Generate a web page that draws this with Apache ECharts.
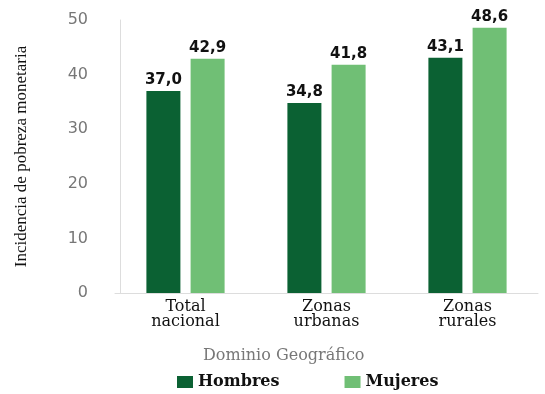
<!DOCTYPE html>
<html>
<head>
<meta charset="utf-8">
<script src="https://cdn.jsdelivr.net/npm/echarts@6/dist/echarts.min.js"></script>
<style>
  html, body { margin: 0; padding: 0; background: #fff; }
  #chart { width: 545px; height: 394px; }
</style>
</head>
<body>
<div id="chart"></div>
<script>
const categories = ['Total\nnacional', 'Zonas\nurbanas', 'Zonas\nrurales']
const hombres = [37.0, 34.8, 43.1]
const mujeres = [42.9, 41.8, 48.6]
const yTicks = [0, 10, 20, 30, 40, 50]

const DARK = '#0b6133'
const LIGHT = '#70bf75'

const chart = echarts.init(document.getElementById('chart'))

const fmt = p => p.value.toFixed(1).replace('.', ',')

const barLabel = {
  show: true,
  position: 'top',
  distance: 3,
  formatter: fmt,
  fontFamily: 'DejaVu Sans',
  fontWeight: 'bold',
  fontSize: 15,
  color: '#111'
}

chart.setOption({
  animation: false,
  title: {
    text: 'Dominio Geográfico',
    left: 198,
    top: 343,
    textStyle: { fontFamily: 'DejaVu Serif', fontWeight: 'normal', fontSize: 16, color: '#777' }
  },
  legend: {
    bottom: -1,
    left: 172,
    itemWidth: 16,
    itemHeight: 12,
    itemGap: 65,
    icon: 'rect',
    textStyle: { fontFamily: 'DejaVu Serif', fontWeight: 'bold', fontSize: 16, color: '#111' },
    data: ['Hombres', 'Mujeres']
  },
  grid: { left: 115, right: 7, top: 20, bottom: 101 },
  xAxis: {
    type: 'category',
    data: categories,
    axisLine: { lineStyle: { color: '#ddd', width: 1 } },
    axisTick: { show: false },
    axisLabel: {
      margin: 6,
      lineHeight: 15,
      fontFamily: 'DejaVu Serif',
      fontSize: 16,
      color: '#111'
    }
  },
  yAxis: {
    type: 'value',
    min: 0,
    max: 50,
    interval: 10,
    offset: -5,
    name: 'Incidencia de pobreza monetaria',
    nameLocation: 'middle',
    nameGap: 90,
    nameTextStyle: { fontFamily: 'Liberation Serif', fontSize: 17, color: '#111' },
    axisLine: { show: true, lineStyle: { color: '#ddd', width: 1 } },
    axisTick: { show: false },
    splitLine: { show: false },
    axisLabel: {
      margin: 32,
      fontFamily: 'DejaVu Sans',
      fontSize: 16,
      color: '#777',
      formatter: v => (yTicks.includes(v) ? String(v) : '')
    }
  },
  series: [
    {
      name: 'Hombres',
      type: 'bar',
      data: hombres,
      barWidth: 34,
      barGap: '30%',
      itemStyle: { color: DARK },
      label: barLabel
    },
    {
      name: 'Mujeres',
      type: 'bar',
      data: mujeres,
      barWidth: 34,
      itemStyle: { color: LIGHT },
      label: barLabel
    }
  ]
})
</script>
</body>
</html>
